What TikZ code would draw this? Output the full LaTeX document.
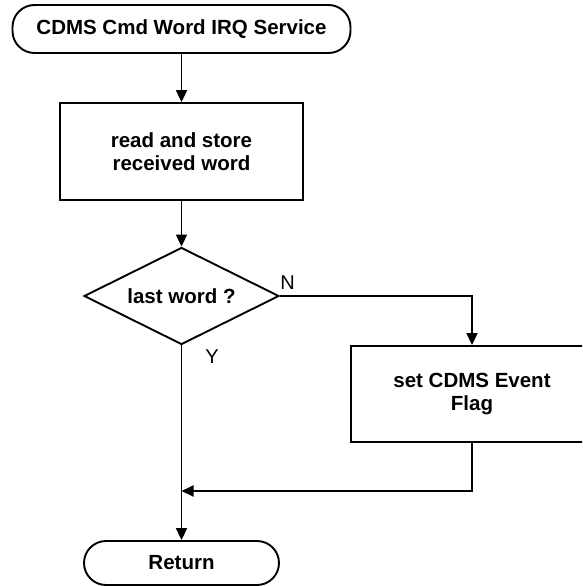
\documentclass[tikz,border=0pt]{standalone}
\usepackage{fontspec}
\setmainfont{Liberation Sans}
\usetikzlibrary{shapes.geometric,arrows.meta}
\begin{document}
\begin{tikzpicture}[x=1pt,y=-1pt,
  txt/.style={font=\fontsize{20.5}{22.5}\selectfont\bfseries, align=center, inner sep=0pt},
  outline/.style={draw=black, line width=1.9pt, fill=white},
  terminal/.style={txt, outline, rounded corners=22pt},
  procbox/.style={txt, outline, rectangle},
  decision/.style={txt, outline, diamond, shape aspect=2},
  flow/.style={draw=black, line width=1.9pt, -{Triangle[length=12pt,width=11pt]}},
  branch/.style={font=\fontsize{20}{22}\selectfont, inner sep=0pt}]
  \useasboundingbox (0,0) rectangle (582,586);
  \clip (0,0) rectangle (582,586);

  % flowchart blocks
  \node[terminal, minimum width=338pt, minimum height=48pt] (start) at (181.5,29) {CDMS Cmd Word IRQ Service};
  \node[procbox, minimum width=243pt, minimum height=97pt] (store) at (181.5,151.5) {read and store\\received word};
  \node[decision, minimum width=195pt, minimum height=97pt] (last) at (181.5,296) {last word ?};
  \node[procbox, minimum width=242pt, minimum height=96pt] (flag) at (472,394) {set CDMS Event\\Flag};
  \node[terminal, minimum width=195pt, minimum height=44pt] (ret) at (181.5,563) {Return};

  % branch labels
  \node[branch] (no) at (287.5,283) {N};
  \node[branch] (yes) at (212,357) {Y};

  % join point on the main column
  \coordinate (merge) at (181.5,491);

  % connectors
  \draw[flow] (start) -- (store);
  \draw[flow] (store) -- (last);
  \draw[flow] (last.east) -| (flag.north);
  \draw[flow] (last.south) -- (ret.north);
  \draw[flow] (flag.south) |- (merge);
\end{tikzpicture}
\end{document}
